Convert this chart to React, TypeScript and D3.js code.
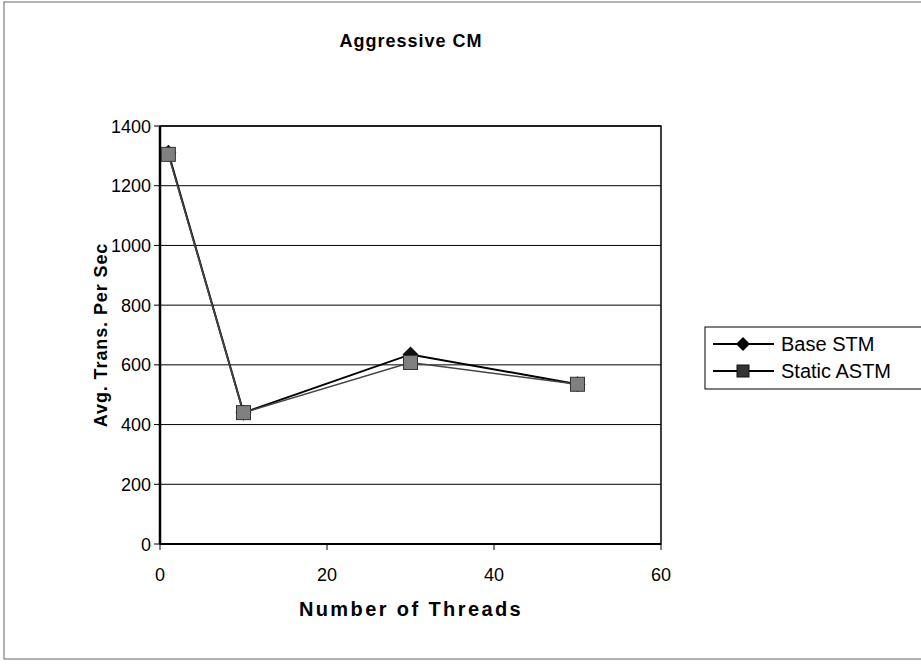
import React from "react";
import * as d3 from "d3";

const threads = [1, 10, 30, 50];
const baseSTM = [1310, 440, 635, 535];
const staticASTM = [1305, 440, 608, 535];
const yTicks = [0, 200, 400, 600, 800, 1000, 1200, 1400];
const xTicks = [0, 20, 40, 60];
const seriesNames = ["Base STM", "Static ASTM"];

const W = 921;
const H = 668;
const plot = { left: 160, right: 661, top: 126, bottom: 544 };
const font = "'Liberation Sans', Arial, sans-serif";

// wide diamond marker centred on the origin
const diamondPath = (r: number) => {
  const p = d3.path();
  p.moveTo(0, -r);
  p.lineTo(r, 0);
  p.lineTo(0, r);
  p.lineTo(-r, 0);
  p.closePath();
  return p.toString();
};

export default function App() {
  const x = d3.scaleLinear().domain([0, 60]).range([plot.left, plot.right]);
  const y = d3.scaleLinear().domain([0, 1400]).range([plot.bottom, plot.top]);
  const line = d3
    .line<[number, number]>()
    .x((d) => x(d[0]))
    .y((d) => y(d[1]));
  const basePts = threads.map((t, i) => [t, baseSTM[i]] as [number, number]);
  const astmPts = threads.map((t, i) => [t, staticASTM[i]] as [number, number]);
  const diamond = diamondPath(8);

  return (
    <svg
      width={W}
      height={H}
      style={{ position: "absolute", left: 0, top: 0, background: "#fff" }}
    >
      <rect x={4} y={2} width={W + 10} height={657} fill="#fff" stroke="#666" strokeWidth={1} />
      <text x={411} y={47} textAnchor="middle" fontFamily={font} fontWeight="bold" fontSize={18} letterSpacing={1}>
        Aggressive CM
      </text>

      {/* gridlines */}
      {yTicks.slice(1).map((t) => (
        <line key={t} x1={plot.left} x2={plot.right} y1={y(t)} y2={y(t)} stroke="#000" strokeWidth={1} />
      ))}
      {/* plot frame */}
      <rect
        x={plot.left}
        y={plot.top}
        width={plot.right - plot.left}
        height={plot.bottom - plot.top}
        fill="none"
        stroke="#000"
        strokeWidth={1.5}
      />
      <line x1={plot.left} x2={plot.left} y1={plot.top} y2={plot.bottom} stroke="#000" strokeWidth={2.5} />
      <line x1={plot.left} x2={plot.right} y1={plot.bottom} y2={plot.bottom} stroke="#000" strokeWidth={2} />

      {/* y ticks */}
      {yTicks.map((t) => (
        <g key={t}>
          <line x1={plot.left - 6} x2={plot.left} y1={y(t)} y2={y(t)} stroke="#000" />
          <text x={plot.left - 9} y={y(t) + 6.5} textAnchor="end" fontFamily={font} fontSize={18}>
            {t}
          </text>
        </g>
      ))}
      {/* x ticks */}
      {xTicks.map((t) => (
        <g key={t}>
          <line x1={x(t)} x2={x(t)} y1={plot.bottom} y2={plot.bottom + 6} stroke="#000" />
          <text x={x(t)} y={plot.bottom + 37} textAnchor="middle" fontFamily={font} fontSize={18}>
            {t}
          </text>
        </g>
      ))}

      <text
        transform={`translate(107, ${(plot.top + plot.bottom) / 2}) rotate(-90)`}
        textAnchor="middle"
        fontFamily={font}
        fontWeight="bold"
        fontSize={18}
        letterSpacing={0.9}
      >
        Avg. Trans. Per Sec
      </text>
      <text x={411} y={616} textAnchor="middle" fontFamily={font} fontWeight="bold" fontSize={20} letterSpacing={2.4}>
        Number of Threads
      </text>

      {/* series */}
      <path d={line(basePts) ?? ""} fill="none" stroke="#000" strokeWidth={2} />
      <path d={line(astmPts) ?? ""} fill="none" stroke="#444" strokeWidth={1.6} />
      {basePts.map((p, i) => (
        <path key={i} d={diamond} transform={`translate(${x(p[0])},${y(p[1])})`} fill="#111" />
      ))}
      {astmPts.map((p, i) => (
        <rect key={i} x={x(p[0]) - 7} y={y(p[1]) - 7} width={14} height={14} fill="#808080" stroke="#333" strokeWidth={1} />
      ))}

      {/* legend */}
      <rect x={705} y={327} width={230} height={62} fill="#fff" stroke="#000" strokeWidth={1} />
      {seriesNames.map((name, i) => {
        const cy = 344 + i * 27;
        return (
          <g key={name}>
            <line x1={713} x2={774} y1={cy} y2={cy} stroke="#000" strokeWidth={1.8} />
            {i === 0 ? (
              <path d={diamondPath(7)} transform={`translate(743,${cy})`} fill="#000" />
            ) : (
              <rect x={737} y={cy - 6} width={12} height={12} fill="#333" stroke="#111" />
            )}
            <text x={781} y={cy + 7} fontFamily={font} fontSize={20}>
              {name}
            </text>
          </g>
        );
      })}
    </svg>
  );
}
